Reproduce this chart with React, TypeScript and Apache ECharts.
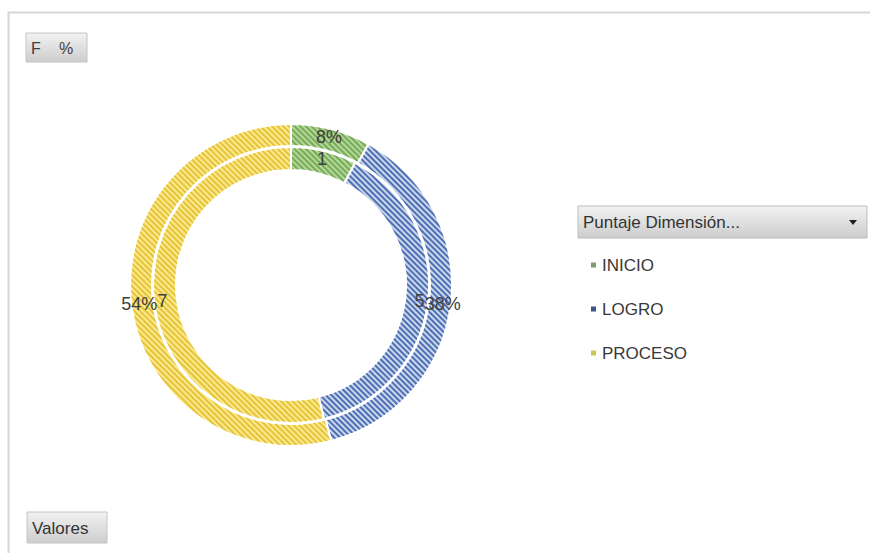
import React, { useEffect, useRef } from "react";
import * as echarts from "echarts";

const categories = ["INICIO", "LOGRO", "PROCESO"];
const freqValues = [1, 5, 7];
const pctValues = [8, 38, 54];
const legendTitle = "Puntaje Dimensión...";
const freqFieldLabel = "F";
const pctFieldLabel = "%";
const valuesLabel = "Valores";

const fills = ["#b3d79b", "#cad7ef", "#fde98c"];
const stripes = ["#79ab57", "#4e70b2", "#e3c43a"];
const legendMarks = ["#7f9a68", "#3f5584", "#c9c257"];

const FONT = "Liberation Sans, Arial, sans-serif";

function makeData(values: number[]) {
  return values.map((v, i) => ({
    name: categories[i],
    value: v,
    itemStyle: {
      color: fills[i],
      decal: {
        symbol: "rect",
        symbolSize: 1,
        dashArrayX: [1, 0],
        dashArrayY: [2, 2],
        rotation: Math.PI / 4,
        color: stripes[i],
      },
    },
  }));
}

const btnGrad = () =>
  new echarts.graphic.LinearGradient(0, 0, 0, 1, [
    { offset: 0, color: "#f2f2f2" },
    { offset: 1, color: "#cdcdcd" },
  ]);

export default function App() {
  const ref = useRef<HTMLDivElement>(null);
  useEffect(() => {
    if (!ref.current) return;
    const chart = echarts.init(ref.current, null, { renderer: "svg" });
    const labelBase = {
      show: true,
      position: "inside",
      color: "#404040",
      fontSize: 18,
      fontFamily: FONT,
    };
    chart.setOption({
      animation: false,
      backgroundColor: "#ffffff",
      legend: {
        orient: "vertical",
        left: 589,
        top: 255,
        padding: 0,
        itemWidth: 7,
        itemHeight: 7,
        itemGap: 24,
        icon: "rect",
        selectedMode: false,
        textStyle: { fontSize: 17, fontFamily: FONT, color: "#383838", lineHeight: 20 },
        data: categories.map((c, i) => ({
          name: c,
          itemStyle: { color: legendMarks[i], decal: "none" },
        })),
      },
      series: [
        {
          name: pctFieldLabel,
          type: "pie",
          center: [291, 285],
          radius: [139, 161],
          startAngle: 90,
          clockwise: true,
          avoidLabelOverlap: false,
          emphasis: { disabled: true },
          itemStyle: { borderColor: "#ffffff", borderWidth: 2 },
          label: { ...labelBase, formatter: "{c}%" },
          labelLine: { show: false },
          data: makeData(pctValues),
        },
        {
          name: freqFieldLabel,
          type: "pie",
          center: [291, 285],
          radius: [115, 138],
          startAngle: 90,
          clockwise: true,
          avoidLabelOverlap: false,
          emphasis: { disabled: true },
          itemStyle: { borderColor: "#ffffff", borderWidth: 2 },
          label: { ...labelBase, formatter: "{c}" },
          labelLine: { show: false },
          data: makeData(freqValues),
        },
      ],
      graphic: [
        { type: "line", shape: { x1: 8, y1: 12.5, x2: 870, y2: 12.5 }, style: { stroke: "#d6d6d6", lineWidth: 2 } },
        { type: "line", shape: { x1: 8.5, y1: 12, x2: 8.5, y2: 553 }, style: { stroke: "#d6d6d6", lineWidth: 2 } },
        {
          type: "rect",
          shape: { x: 26, y: 33, width: 61, height: 29 },
          style: { fill: btnGrad(), stroke: "#c4c4c4", lineWidth: 1 },
        },
        { type: "text", style: { text: freqFieldLabel, x: 36, y: 48, font: `16px ${FONT}`, fill: "#404040", textAlign: "center", textVerticalAlign: "middle" } },
        { type: "text", style: { text: pctFieldLabel, x: 66, y: 48, font: `16px ${FONT}`, fill: "#404040", textAlign: "center", textVerticalAlign: "middle" } },
        {
          type: "rect",
          shape: { x: 27, y: 512, width: 80, height: 31 },
          style: { fill: btnGrad(), stroke: "#c4c4c4", lineWidth: 1 },
        },
        { type: "text", style: { text: valuesLabel, x: 32, y: 528, font: `17px ${FONT}`, fill: "#333333", textAlign: "left", textVerticalAlign: "middle" } },
        {
          type: "rect",
          shape: { x: 578, y: 206, width: 289, height: 32 },
          style: { fill: btnGrad(), stroke: "#bdbdbd", lineWidth: 1 },
        },
        { type: "text", style: { text: legendTitle, x: 583, y: 222, font: `17px ${FONT}`, fill: "#333333", textAlign: "left", textVerticalAlign: "middle" } },
        { type: "polygon", shape: { points: [[849, 220], [857, 220], [853, 225]] }, style: { fill: "#222222" } },
      ],
    });
    return () => chart.dispose();
  }, []);
  return (
    <div
      ref={ref}
      style={{ position: "fixed", left: 0, top: 0, width: 870, height: 553 }}
    />
  );
}
